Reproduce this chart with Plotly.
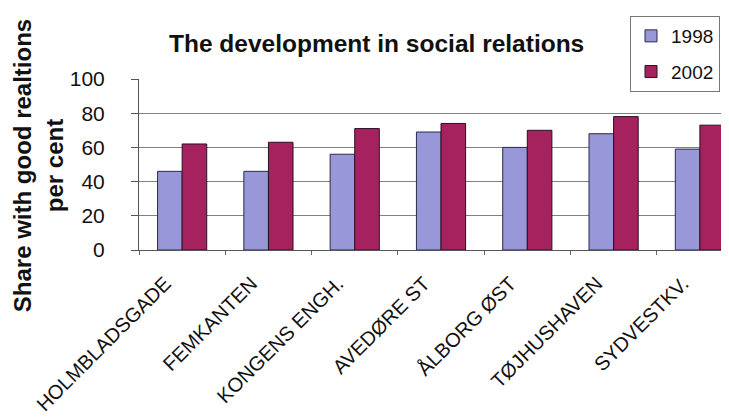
import plotly.graph_objects as go

categories = ["HOLMBLADSGADE", "FEMKANTEN", "KONGENS ENGH.", "AVEDØRE ST",
              "ÅLBORG ØST", "TØJHUSHAVEN", "SYDVESTKV."]
values_1998 = [46, 46, 56, 69, 60, 68, 59]
values_2002 = [62, 63, 71, 74, 70, 78, 73]
series_names = ["1998", "2002"]
y_ticks = [0, 20, 40, 60, 80, 100]

FONT = "Arial, Liberation Sans, sans-serif"
W, H = 729, 418
L, R, T, B = 131, 0, 71, 176

fig = go.Figure()
fig.add_trace(go.Bar(x=categories, y=values_1998, name=series_names[0],
                     marker=dict(color="#9898D8", line=dict(color="#2a2a4a", width=1)),
                     legendgroup="a"))
fig.add_trace(go.Bar(x=categories, y=values_2002, name=series_names[1],
                     marker=dict(color="#A6225F", line=dict(color="#2a1020", width=1)),
                     legendgroup="b"))

pw = W - L - R
ph = H - T - B
def px_x(px):
    return (px - L) / pw
def px_y(py):
    return (H - B - py) / ph

fig.update_layout(
    width=W, height=H,
    margin=dict(l=L, r=R, t=T, b=B, autoexpand=False),
    paper_bgcolor="white", plot_bgcolor="white",
    barmode="group", bargap=0.43, bargroupgap=0,
    font=dict(family=FONT, color="#111"),
    showlegend=True,
    legend=dict(x=px_x(712), y=px_y(8), xanchor="right", yanchor="top",
                bordercolor="#777", borderwidth=1, bgcolor="white",
                font=dict(size=19, family=FONT), itemwidth=30,
                traceorder="grouped", tracegroupgap=8),
    xaxis=dict(range=[-0.5, 6.43], type="category", tickangle=-45,
               tickfont=dict(size=20, family=FONT, color="#111"),
               showline=True, linecolor="#555", linewidth=1,
               ticks="outside", tickson="boundaries", ticklen=4, tickcolor="#666",
               showgrid=False, automargin=False, ticklabelstandoff=13,
               ticklabelshift=-17),
    yaxis=dict(range=[0, 100], tickvals=y_ticks,
               tickfont=dict(size=21, family=FONT, color="#111"),
               showline=True, linecolor="#555", linewidth=1,
               ticks="outside", ticklen=7, tickcolor="#555",
               showgrid=True, gridcolor="#808080", gridwidth=1,
               zeroline=False, automargin=False, ticklabelstandoff=22),
    annotations=[
        dict(text="<b>The development in social relations</b>", xref="paper", yref="paper",
             x=px_x(368), y=px_y(36), xanchor="center", yanchor="middle",
             showarrow=False, font=dict(size=24.5, family=FONT, color="#111")),
        dict(text="<b>Share with good realtions</b>", xref="paper", yref="paper",
             x=px_x(14), y=0.49, xanchor="center", yanchor="middle", textangle=-90,
             showarrow=False, font=dict(size=24, family=FONT, color="#111")),
        dict(text="<b>per cent</b>", xref="paper", yref="paper",
             x=px_x(46), y=0.49, xanchor="center", yanchor="middle", textangle=-90,
             showarrow=False, font=dict(size=24, family=FONT, color="#111")),
    ],
)

fig.write_html("out.html")
